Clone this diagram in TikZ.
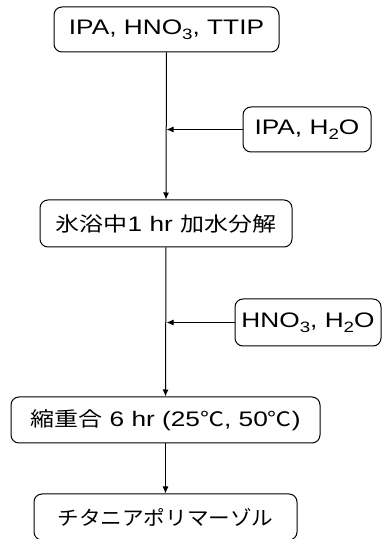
\documentclass[tikz,border=0pt]{standalone}
\usepackage{fontspec}
\setmainfont{Liberation Sans}[FakeStretch=1.25]
\newfontfamily\jp{Noto Sans CJK JP}[FakeStretch=1.2]
\newfontfamily\kn{Noto Sans CJK JP}[FakeStretch=1.08]
\usetikzlibrary{arrows.meta}
\newcommand{\sbs}[1]{\raisebox{-5pt}{\fontsize{15pt}{15pt}\selectfont #1}}
\newcommand{\J}[1]{{\jp\fontsize{20pt}{24pt}\selectfont #1}}
\newcommand{\K}[1]{{\kn\fontsize{20pt}{24pt}\selectfont #1}}
\begin{document}
\begin{tikzpicture}[x=1pt,y=1pt,
  box/.style={draw, line width=1pt, rounded corners=8pt, inner sep=0pt, font=\fontsize{21pt}{25pt}\selectfont},
  arr/.style={line width=1pt, -{Latex[length=7pt,width=6pt]}}]
\useasboundingbox (0,0) rectangle (382,539);
\node[box, minimum width=225, minimum height=45] (b1) at (166.5,509.5) {IPA, HNO\sbs{3}, TTIP};
\node[box, minimum width=128, minimum height=45] (b2) at (307,409.5) {IPA, H\sbs{2}O};
\node[box, minimum width=252, minimum height=47] (b3) at (166,315.5) {\J{氷浴中}1 hr \J{加水分解}};
\node[box, minimum width=146, minimum height=47] (b4) at (308,216.5) {HNO\sbs{3}, H\sbs{2}O};
\node[box, minimum width=309, minimum height=46] (b5) at (165.5,119) {\J{縮重合} 6 hr (25\J{℃}, 50\J{℃})};
\node[box, minimum width=263, minimum height=46] (b6) at (165.5,22) {\K{チタニアポリマーゾル}};
\draw[arr] (b1.south) -- (b3.north);
\draw[arr] (b3.south) -- (b5.north);
\draw[arr] (b5.south) -- (b6.north);
\draw[arr] (b2.west) -- (b2.west -| b1.south);
\draw[arr] (b4.west) -- (b4.west -| b1.south);
\end{tikzpicture}
\end{document}
